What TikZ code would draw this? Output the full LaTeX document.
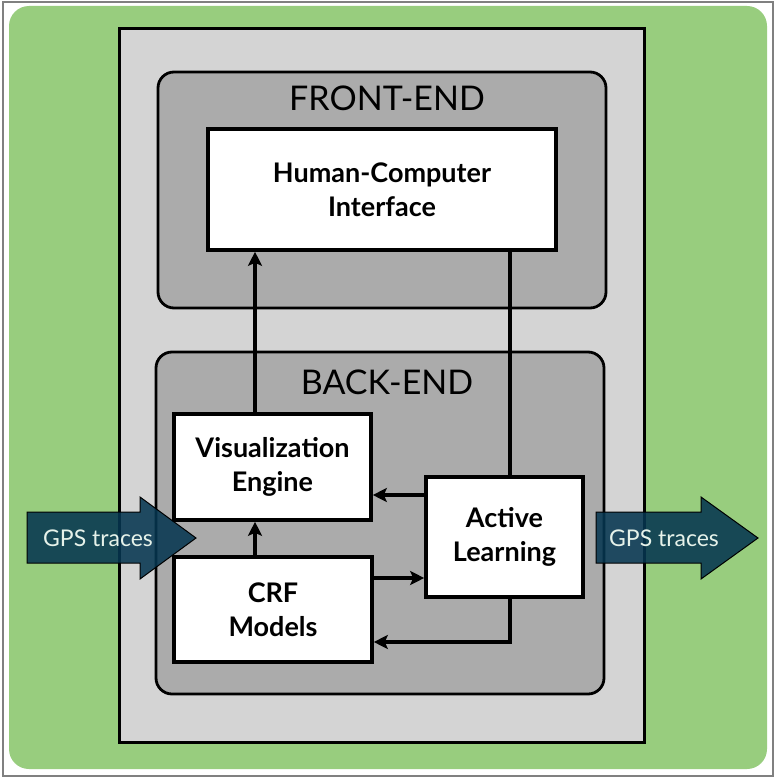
\documentclass[tikz,border=0pt]{standalone}
\usepackage{fontspec}
\setmainfont{Lato}
\usetikzlibrary{arrows.meta}
\definecolor{bggreen}{HTML}{98CD7E}
\definecolor{lgray}{HTML}{D4D4D4}
\definecolor{mgray}{HTML}{ABABAB}
\definecolor{gpsblue}{HTML}{063650}
\definecolor{gpstext}{HTML}{E6F2EA}
\tikzset{
  container/.style={draw=black, fill=mgray, line width=2.8pt, rounded corners=16pt, inner sep=0pt},
  boxnode/.style={draw=black, fill=white, line width=3.6pt, inner sep=0pt, align=center, font=\fontsize{27}{34}\selectfont\bfseries},
  grouplabel/.style={font=\fontsize{34}{38}\selectfont},
  conn/.style={line width=3.4pt},
  arr/.style={conn, -{Stealth[length=14pt,width=14pt,inset=3pt]}},
  gpsarrow/.style={fill=gpsblue, fill opacity=0.88, draw=black, line width=1pt},
  gpslabel/.style={text=gpstext, font=\fontsize{23}{26}\selectfont}
}
\begin{document}
\begin{tikzpicture}[x=1pt,y=-1pt]
\useasboundingbox (0,0) rectangle (778,781);
\draw[gray, line width=1.5pt, fill=white] (3,2) rectangle (773,776);
\fill[bggreen, rounded corners=20pt] (9,6) rectangle (767,769);
\node[draw=black, fill=lgray, line width=3pt, minimum width=525pt, minimum height=713pt, inner sep=0pt] (main) at (381.5,385.5) {};
\node[container, minimum width=448pt, minimum height=236pt] (front) at (382,190) {};
\node[container, minimum width=448pt, minimum height=342pt] (back) at (380,523) {};
\node[grouplabel] (frontlbl) at (387,98) {FRONT-END};
\node[grouplabel] (backlbl) at (387,382) {BACK-END};
\node[boxnode, minimum width=348pt, minimum height=121pt] (hci) at (382,189.5) {Human-Computer\\Interface};
\node[boxnode, minimum width=197pt, minimum height=106pt] (viz) at (272.5,467) {Visualization\\Engine};
\node[boxnode, minimum width=198pt, minimum height=105pt] (crf) at (273,609.5) {CRF\\Models};
\node[boxnode, minimum width=157pt, minimum height=120pt] (al) at (504.5,537) {Active\\Learning};
\coordinate (xL) at (255,0);
\coordinate (xR) at (510,0);
\coordinate (y1) at (0,495);
\coordinate (y2) at (0,578);
\coordinate (y3) at (0,642);
\draw[arr] (xL |- viz.north) -- (xL |- hci.south);
\draw[conn] (xR |- hci.south) -- (xR |- al.north);
\draw[arr] (al.west |- y1) -- (viz.east |- y1);
\draw[arr] (xL |- crf.north) -- (xL |- viz.south);
\draw[arr] (crf.east |- y2) -- (al.west |- y2);
\draw[arr] (xR |- al.south) -- (xR |- y3) -- (crf.east |- y3);
\draw[gpsarrow] (27,512) -- (140,512) -- (140,497) -- (196,538) -- (140,579) -- (140,563) -- (27,563) -- cycle;
\draw[gpsarrow] (596,512) -- (701,512) -- (701,497) -- (758,538) -- (701,579) -- (701,563) -- (596,563) -- cycle;
\node[gpslabel] (gpsin) at (98,538) {GPS traces};
\node[gpslabel] (gpsout) at (664,538) {GPS traces};
\end{tikzpicture}
\end{document}
